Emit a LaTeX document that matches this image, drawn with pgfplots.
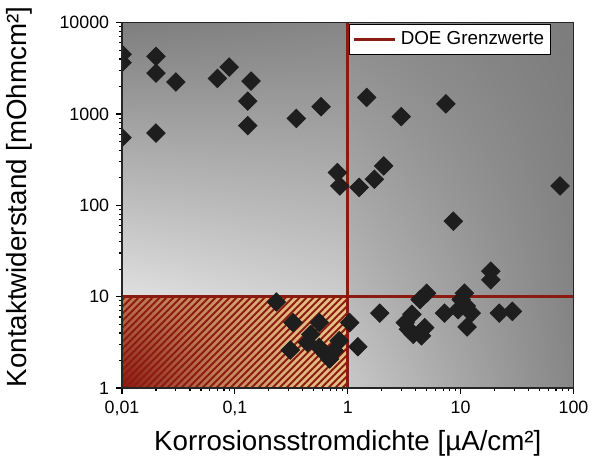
\documentclass[border=0pt]{standalone}
\usepackage{fontspec}
\setmainfont{Liberation Sans}
\usepackage{pgfplots}
\pgfplotsset{compat=1.18}
\usetikzlibrary{patterns.meta,shadings}

\definecolor{limred}{HTML}{8B1A10}
\definecolor{markgray}{HTML}{1E1E1E}
% hatched box: red in the lower left corner, pale tan further out
\pgfdeclareradialshading{hatchbase}{\pgfpoint{0bp}{0bp}}{%
  color(0bp)=(limred); rgb(10bp)=(0.76,0.50,0.35);
  rgb(18bp)=(0.87,0.71,0.49); rgb(35bp)=(0.96,0.86,0.62); rgb(50bp)=(0.96,0.86,0.62)}
% gray background, left part (x<1, y>10)
\definecolor{lUL}{HTML}{7E7E7E}
\definecolor{lUR}{HTML}{868686}
\definecolor{lLL}{HTML}{E0E0E0}
\definecolor{lLR}{HTML}{CCCCCC}
% gray background, right part (x>1)
\definecolor{rUL}{HTML}{8C8C8C}
\definecolor{rUR}{HTML}{7C7C7C}
\definecolor{rLL}{HTML}{C8C8C8}
\definecolor{rLR}{HTML}{868686}

\pgfplotstableread{
x y
0.01 4500
0.01 3650
0.01 550
0.02 4270
0.02 2800
0.02 618
0.03 2240
0.07 2450
0.089 3260
0.139 2290
0.13 1380
0.13 745
0.35 893
0.58 1200
0.81 228
0.85 163
1.26 157
1.72 193
2.08 270
1.47 1517
2.98 935
7.4 1290
76 163
8.6 67
18.5 19
18.5 15.3
5.0 10.9
4.37 9.3
10.8 10.9
10.1 9.3
11.2 7.9
12.4 6.6
9.5 7.2
7.2 6.6
11.4 4.66
22 6.6
28.7 6.9
1.92 6.6
3.7 6.4
3.23 5.2
3.45 4.4
3.8 3.87
4.8 4.58
4.5 3.72
1.04 5.2
1.23 2.83
0.233 8.75
0.327 5.2
0.56 5.2
0.31 2.6
0.47 3.87
0.44 3.15
0.56 2.78
0.64 2.35
0.69 2.08
0.84 3.29
0.76 2.56
}\messdata

\begin{document}
\begin{tikzpicture}
\begin{axis}[
  xmode=log, ymode=log,
  xmin=0.01, xmax=100, ymin=1, ymax=10000,
  width=228pt, height=184.5pt, scale only axis,
  axis on top,
  axis line style={line width=0.75pt, color=black!85},
  xtick={0.01,0.1,1,10,100}, xticklabels={{0,01},{0,1},1,10,100},
  ytick={1,10,100,1000,10000}, yticklabels={1,10,100,1000,10000},
  tick align=outside, tick pos=left,
  major tick length=3pt, minor tick length=1.6pt,
  tick style={line width=0.6pt, color=black},
  tick label style={font=\fontsize{9}{10}\selectfont},
  label style={font=\fontsize{14}{16}\selectfont},
  xlabel={Korrosionsstromdichte [µA/cm²]},
  ylabel={Kontaktwiderstand [mOhmcm²]},
  xlabel style={at={(axis description cs:0.5,-0.152)}, anchor=center},
  ylabel style={at={(axis description cs:-0.227,0.523)}, anchor=center},
  clip marker paths=true,
  legend style={at={(rel axis cs:0.951,0.995)}, anchor=north east,
    draw=black, line width=0.5pt, fill=white,
    font=\fontsize{9.5}{11}\selectfont, inner sep=1.5pt, cells={anchor=west}},
  legend image code/.code={\draw[#1, line width=1.5pt] (0pt,0pt) -- (21pt,0pt);},
]
\shade[upper left=lUL, upper right=lUR, lower left=lLL, lower right=lLR]
  (axis cs:0.01,10) rectangle (axis cs:1,10000);
\shade[upper left=rUL, upper right=rUR, lower left=rLL, lower right=rLR]
  (axis cs:1,1) rectangle (axis cs:100,10000);
\begin{scope}
  \clip (axis cs:0.01,1) rectangle (axis cs:1,10);
  \shade[shading=hatchbase] (axis cs:0.01,1) circle[radius=123pt];
\end{scope}
\fill[pattern={Lines[angle=45,distance=2.5pt,line width=1.0pt]}, pattern color=limred]
  (axis cs:0.01,1) rectangle (axis cs:1,10);

\addplot[limred, line width=1.5pt] coordinates {(1,1) (1,10000)};
\addlegendentry{DOE Grenzwerte}
\addplot[limred, line width=1.5pt, forget plot] coordinates {(0.01,10) (100,10)};

\addplot[only marks, mark=square*, mark size=3.3pt,
  mark options={rotate=45, fill=markgray, draw=markgray}, forget plot]
  table[x=x, y=y] {\messdata};
\end{axis}
\path (current axis.south west) ++(-59.75pt,-38.5pt);
\path (current axis.north east) ++(9.75pt,11pt);
\end{tikzpicture}
\end{document}
